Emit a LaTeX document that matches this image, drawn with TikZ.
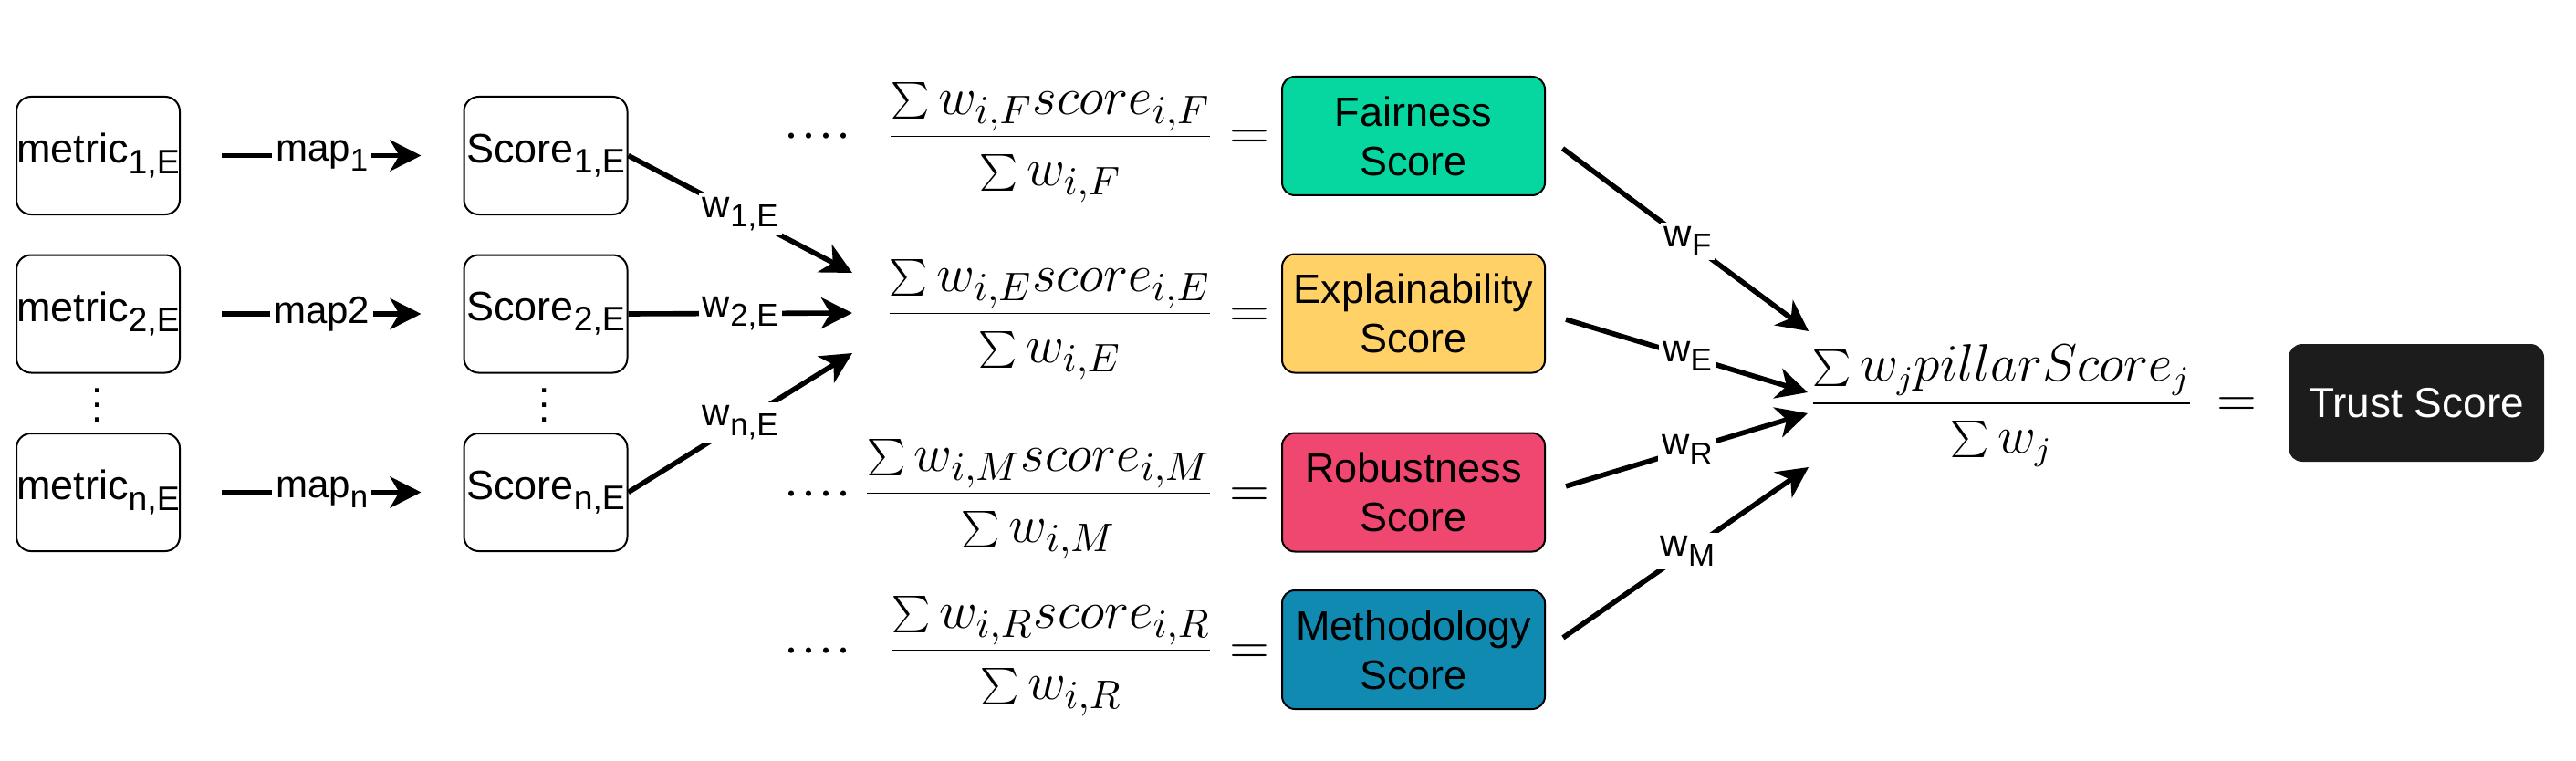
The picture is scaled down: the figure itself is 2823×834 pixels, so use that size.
\documentclass[tikz,border=0pt]{standalone}
\usepackage[no-math]{fontspec}
\setmainfont{Liberation Sans}
\usepackage{graphicx}
\usetikzlibrary{arrows.meta}
\definecolor{fair}{HTML}{06D6A0}
\definecolor{expl}{HTML}{FFD166}
\definecolor{robu}{HTML}{EF476F}
\definecolor{meth}{HTML}{118AB2}
\definecolor{trust}{HTML}{1C1C1C}
\newcommand{\sbx}[1]{\raisebox{-0.25em}{\scalebox{0.83}{#1}}}
\begin{document}
\begin{tikzpicture}[x=0.25pt,y=-0.25pt,
  mbox/.style={draw=black, line width=0.5pt, rounded corners=4pt, minimum width=44.75pt, minimum height=32.25pt, inner sep=0pt, font=\fontsize{11.25}{13.5}\selectfont},
  pbox/.style={draw=black, line width=0.5pt, rounded corners=3.5pt, minimum width=72pt, minimum height=32.5pt, inner sep=0pt, align=center, font=\fontsize{11.25}{13.5}\selectfont},
  tbox/.style={draw=trust, fill=trust, text=white, line width=0.5pt, rounded corners=3.5pt, minimum width=69.5pt, minimum height=31.75pt, inner sep=0pt, font=\fontsize{11.5}{13.5}\selectfont},
  conn/.style={line width=1.4pt, -{Stealth[length=8.5pt,width=8.5pt,inset=2.5pt]}},
  lab/.style={fill=white, inner sep=1pt, font=\fontsize{10.5}{12}\selectfont},
  sfrac/.style={anchor=base east, inner sep=0pt, font=\fontsize{15}{18}\selectfont},
  seq/.style={anchor=base, inner sep=0pt, font=\fontsize{15}{18}\selectfont},
  bfrac/.style={anchor=base west, inner sep=0pt, font=\fontsize{13.5}{16}\selectfont},
  beq/.style={anchor=base, inner sep=0pt, font=\fontsize{13.5}{16}\selectfont},
  vdotsty/.style={anchor=base, inner sep=0pt, font=\fontsize{11}{13}\selectfont}
]
\useasboundingbox (0,0) rectangle (2823,834);

% metric and score boxes
\node[mbox] (m1) at (107.5,170.5) {metric\sbx{1,E}};
\node[mbox] (m2) at (107.5,344) {metric\sbx{2,E}};
\node[mbox] (m3) at (107.5,539.5) {metric\sbx{n,E}};
\node[mbox] (s1) at (598,170.5) {Score\sbx{1,E}};
\node[mbox] (s2) at (598,344) {Score\sbx{2,E}};
\node[mbox] (s3) at (598,539.5) {Score\sbx{n,E}};
\node[vdotsty] (vd1) at (107,462) {\smash{$\vdots$}};
\node[vdotsty] (vd2) at (597,462) {\smash{$\vdots$}};

\draw[conn, shorten <=11.25pt, shorten >=11.5pt] (m1) -- node[lab]{map\sbx{1}} (s1);
\draw[conn, shorten <=11.25pt, shorten >=11.5pt] (m2) -- node[lab]{map2} (s2);
\draw[conn, shorten <=11.25pt, shorten >=11.5pt] (m3) -- node[lab]{map\sbx{n}} (s3);

% target points on the E fraction
\coordinate (tw1) at (934,299);
\coordinate (tw2) at (934,343);
\coordinate (tw3) at (934,387);
\draw[conn] (s1.east) -- node[lab]{w\sbx{1,E}} (tw1);
\draw[conn] (s2.east) -- node[lab]{w\sbx{2,E}} (tw2);
\draw[conn] (s3.east) -- node[lab]{w\sbx{n,E}} (tw3);

% pillar fractions
\node[sfrac] (fF) at (1332,164) {$\displaystyle\frac{\sum w_{i,F}score_{i,F}}{\sum w_{i,F}}$};
\node[sfrac] (fE) at (1332,358) {$\displaystyle\frac{\sum w_{i,E}score_{i,E}}{\sum w_{i,E}}$};
\node[sfrac] (fM) at (1332,555) {$\displaystyle\frac{\sum w_{i,M}score_{i,M}}{\sum w_{i,M}}$};
\node[sfrac] (fR) at (1332,727) {$\displaystyle\frac{\sum w_{i,R}score_{i,R}}{\sum w_{i,R}}$};

\node[seq] (cF) at (896,164) {${\cdot}\mkern1mu{\cdot}\mkern1mu{\cdot}\mkern1mu{\cdot}$};
\node[seq] (cM) at (896,555) {${\cdot}\mkern1mu{\cdot}\mkern1mu{\cdot}\mkern1mu{\cdot}$};
\node[seq] (cR) at (896,727) {${\cdot}\mkern1mu{\cdot}\mkern1mu{\cdot}\mkern1mu{\cdot}$};

\node[seq] (eF) at (1369,164) {$=$};
\node[seq] (eE) at (1369,358) {$=$};
\node[seq] (eM) at (1369,555) {$=$};
\node[seq] (eR) at (1369,727) {$=$};

% pillar boxes
\node[pbox, fill=fair] (pF) at (1549,149) {Fairness\\Score};
\node[pbox, fill=expl] (pE) at (1549,343.5) {Explainability\\Score};
\node[pbox, fill=robu] (pR) at (1549,539.5) {Robustness\\Score};
\node[pbox, fill=meth] (pM) at (1549,712) {Methodology\\Score};

% trust fraction
\node[bfrac] (ft) at (1981,456.5) {$\displaystyle\frac{\sum w_{j}pillarScore_{j}}{\sum w_{j}}$};
\node[beq] (et) at (2451,456.5) {$=$};
\node[tbox] (trust) at (2648,441.5) {Trust Score};

\coordinate (tF) at (1982,363);
\coordinate (tE) at (1981,430);
\coordinate (tR) at (1981,453);
\coordinate (tM) at (1982,512);
\draw[conn, shorten <=5.75pt] (pF.east) -- node[lab, pos=0.54]{w\sbx{F}} (tF);
\draw[conn, shorten <=5.75pt] (pE.east) -- node[lab, pos=0.54]{w\sbx{E}} (tE);
\draw[conn, shorten <=5.75pt] (pR.east) -- node[lab, pos=0.54]{w\sbx{R}} (tR);
\draw[conn, shorten <=5.75pt] (pM.east) -- node[lab, pos=0.54]{w\sbx{M}} (tM);
\end{tikzpicture}
\end{document}
